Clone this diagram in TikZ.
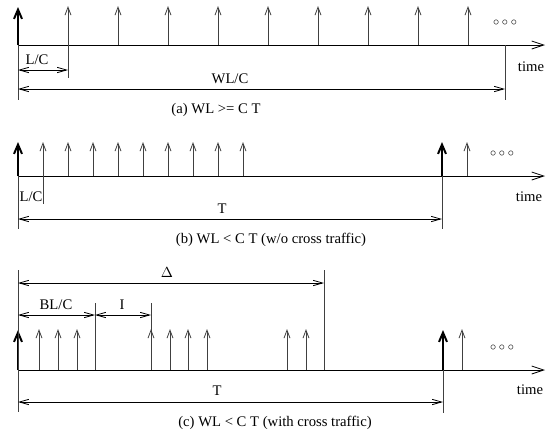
\documentclass[tikz,border=0pt]{standalone}
\usepackage{fontspec}
\setmainfont{Liberation Serif}
\usetikzlibrary{arrows.meta}

\begin{document}
\begin{tikzpicture}[
      x=0.75pt, y=-0.75pt,
      font=\fontsize{11}{13}\selectfont,
      axis/.style={draw=black, line width=0.6pt, -{Straight Barb[length=9pt,width=6pt]}},
      pulse/.style={draw=black!75, line width=0.6pt, -{Straight Barb[length=6pt,width=4.5pt]}},
      bigpulse/.style={draw=black, line width=1.5pt, -{Straight Barb[length=7pt,width=6pt]}},
      guide/.style={draw=black!75, line width=0.6pt},
      span/.style={draw=black, line width=0.6pt,
                   {Straight Barb[length=7pt,width=4pt]}-{Straight Barb[length=7pt,width=4pt]}},
      lbl/.style={inner sep=1pt},
      dots/.style={inner sep=0pt, font=\fontsize{9}{9}\selectfont}
    ]
    \useasboundingbox (0,0) rectangle (551,433);

    % (a) WL >= C T
    \coordinate (aorg) at (18,45);
    \coordinate (aend) at (545,45);
    \coordinate (aone) at (68,45);
    \coordinate (awin) at (505,45);
    \draw[axis] (aorg) -- (aend);
    \draw[bigpulse] (aorg) -- ++(0,-38);
    \foreach \i in {1,...,9}
      \draw[pulse] (18+50*\i,45) -- ++(0,-39);
    \draw[guide] (aorg) -- ++(0,55);
    \draw[guide] (aone) -- ++(0,33);
    \draw[guide] (awin) -- ++(0,55);
    \draw[span] (18,70) -- (68,70);
    \draw[span] (18,89) -- (505,89);
    \node[lbl] (alc) at (37,60) {L/C};
    \node[lbl] (awlc) at (230,79) {WL/C};
    \node[dots] (adots) at (505,23) {$\circ\circ\circ$};
    \node[lbl] (atime) at (531,67) {time};
    \node[lbl] (acap) at (216,110) {(a) WL >= C T};

    % (b) WL < C T, no cross traffic
    \coordinate (borg) at (18,176);
    \coordinate (bend) at (545,176);
    \coordinate (bone) at (43,176);
    \coordinate (bper) at (442,176);
    \draw[axis] (borg) -- (bend);
    \draw[bigpulse] (borg) -- ++(0,-34);
    \draw[bigpulse] (bper) -- ++(0,-34);
    \foreach \i in {0,...,8}
      \draw[pulse] (43+25*\i,176) -- ++(0,-34);
    \draw[pulse] (467,176) -- ++(0,-34);
    \draw[guide] (borg) -- ++(0,53);
    \draw[guide] (bone) -- ++(0,28);
    \draw[guide] (bper) -- ++(0,53);
    \draw[span] (18,219) -- (442,219);
    \node[lbl] (blc) at (31,197) {L/C};
    \node[lbl] (bt) at (222,209) {T};
    \node[dots] (bdots) at (502,154) {$\circ\circ\circ$};
    \node[lbl] (btime) at (529,197) {time};
    \node[lbl] (bcap) at (271,240) {(b) WL < C T (w/o cross traffic)};

    % (c) WL < C T, with cross traffic
    \coordinate (corg) at (18,370);
    \coordinate (cend) at (545,370);
    \coordinate (cburst) at (95,370);
    \coordinate (cgap) at (151,370);
    \coordinate (cdelta) at (324,370);
    \coordinate (cper) at (443,370);
    \draw[axis] (corg) -- (cend);
    \draw[bigpulse] (corg) -- ++(0,-40);
    \draw[bigpulse] (cper) -- ++(0,-40);
    \foreach \x in {39,58,77,151,170,188,207,287,306,462}
      \draw[pulse] (\x,370) -- ++(0,-41);
    \draw[guide] (18,270) -- (18,412);
    \draw[guide] (cburst) -- ++(0,-67);
    \draw[guide] (cgap) -- ++(0,-67);
    \draw[guide] (cdelta) -- ++(0,-100);
    \draw[guide] (cper) -- ++(0,43);
    \draw[span] (18,283) -- (324,283);
    \draw[span] (18,315) -- (95,315);
    \draw[span] (95,315) -- (151,315);
    \draw[span] (18,402) -- (443,402);
    \node[lbl] (cdl) at (167,273) {$\Delta$};
    \node[lbl] (cblc) at (56,305) {BL/C};
    \node[lbl] (ci) at (122,305) {I};
    \node[lbl] (ct) at (217,391) {T};
    \node[dots] (cdots) at (502,348) {$\circ\circ\circ$};
    \node[lbl] (ctime) at (530,390) {time};
    \node[lbl] (ccap) at (275,423) {(c) WL < C T (with cross traffic)};
  \end{tikzpicture}
\end{document}
